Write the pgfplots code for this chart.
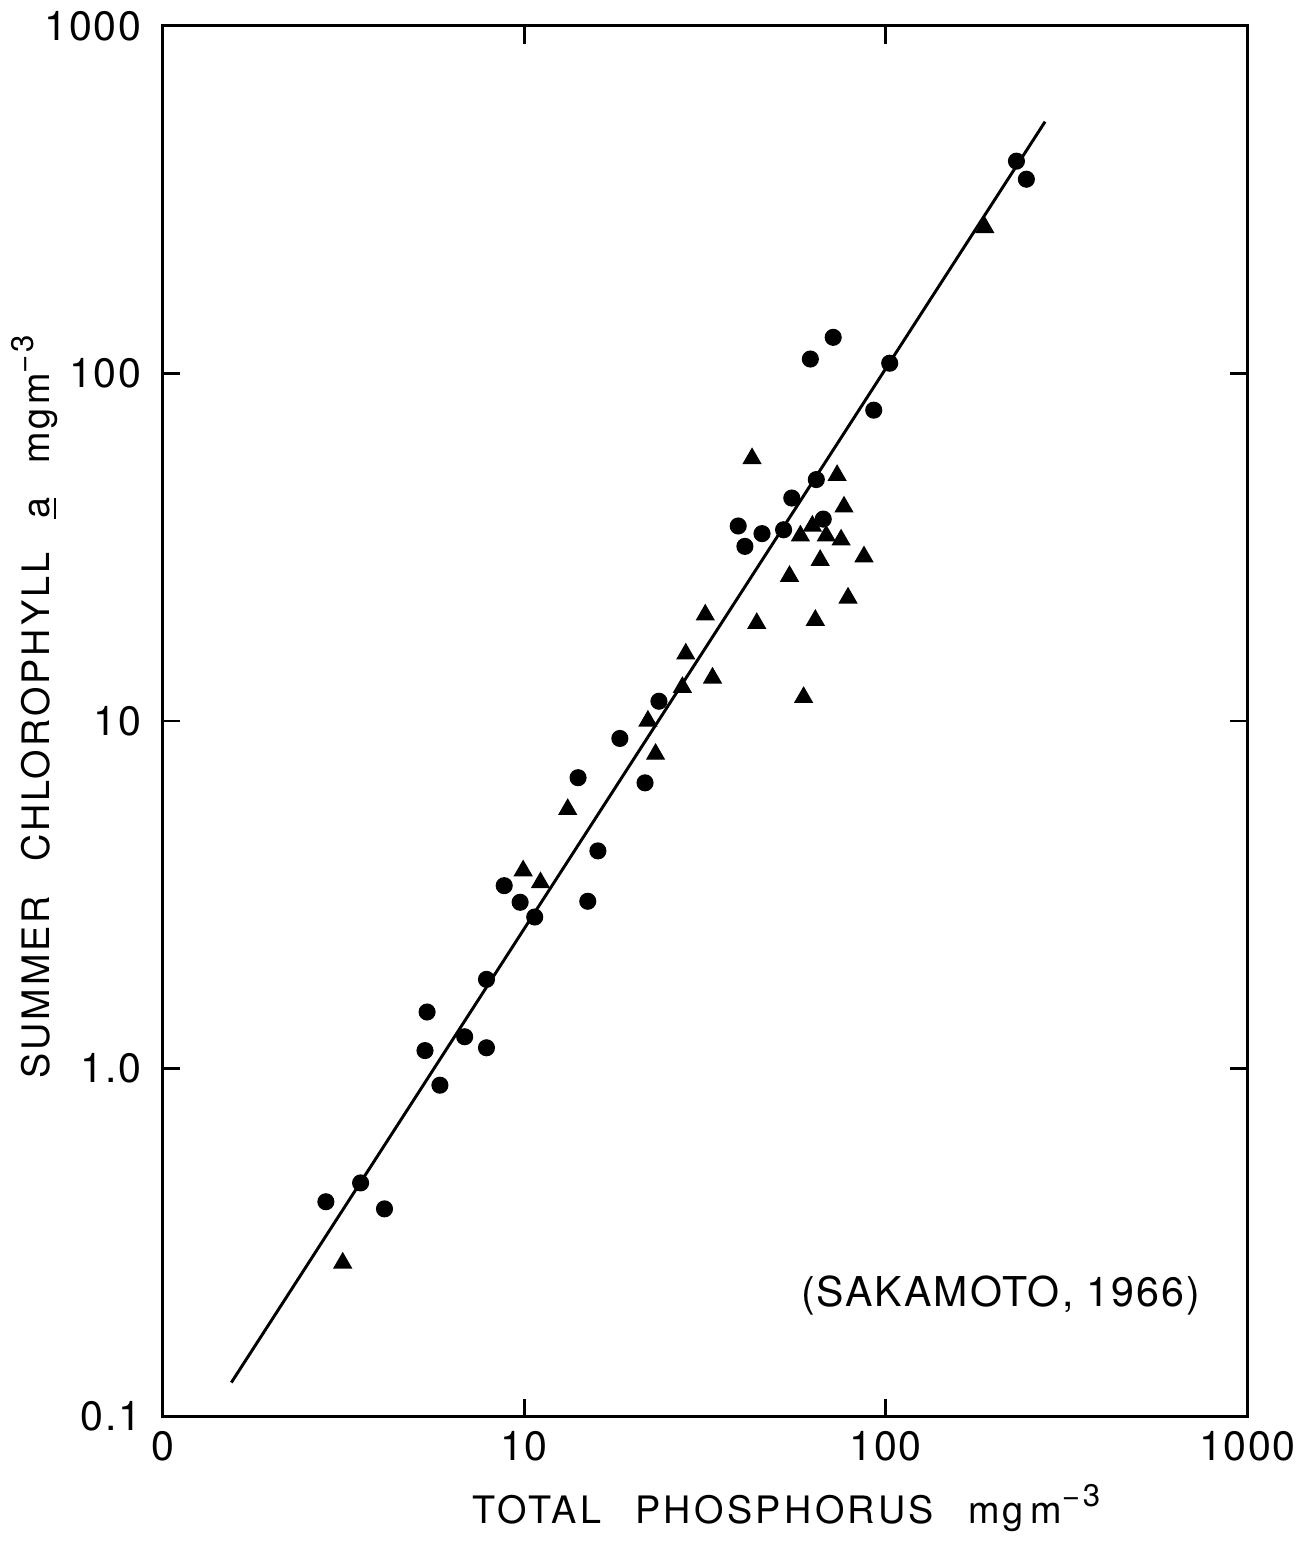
\documentclass[border=0pt]{standalone}
\usepackage{pgfplots}
\pgfplotsset{compat=1.18}
\usepackage{fontspec}
\setmainfont{TeX Gyre Heros}
\newcommand{\supm}{\raisebox{0.85ex}{\fontsize{9.5}{10}\selectfont −3}}
\begin{document}
\begin{tikzpicture}
\begin{axis}[
  scale only axis,
  width=330pt, height=423pt,
  xmode=log, ymode=log,
  xmin=1, xmax=1000, ymin=0.1, ymax=1000,
  axis line style={line width=0.9pt},
  tick style={line width=0.9pt, black},
  major tick length=5.4pt,
  tick align=inside,
  xtick pos=both, ytick pos=both,
  xminorticks=false, yminorticks=false,
  xtick={1,10,100,1000}, xticklabels={0,10,100,1000},
  ytick={0.1,1,10,100,1000}, yticklabels={0.1,1.0,10,100,1000},
  every tick label/.append style={font=\fontsize{12.5}{14}\selectfont\addfontfeature{LetterSpace=4}},
  yticklabel style={xshift=-3pt},
  xticklabel style={yshift=-1pt},
  xlabel={TOTAL\hspace{0.9em}PHOSPHORUS\hspace{0.9em}mg\,m\supm},
  ylabel={SUMMER\hspace{0.9em}CHLOROPHYLL\hspace{0.9em}\underline{a}\hspace{0.9em}mgm\supm},
  xlabel style={at={(axis description cs:0.575,-0.041)}, anchor=north, font=\fontsize{11.5}{13}\selectfont\addfontfeature{LetterSpace=9}},
  ylabel style={at={(axis description cs:-0.118,0.51)}, anchor=center, font=\fontsize{11.5}{13}\selectfont\addfontfeature{LetterSpace=8}},
  clip=false,
]
% regression line
\addplot[black, line width=0.9pt] coordinates {(1.55,0.125) (276,530)};
% circles
\addplot[only marks, mark=*, mark size=2.4pt, black] coordinates {
(2.83,0.414) (3.53,0.469) (4.11,0.395) (5.39,1.455) (5.32,1.127) (5.85,0.896)
(6.85,1.235) (7.87,1.806) (7.87,1.148) (8.81,3.36) (9.75,3.01) (10.7,2.73)
(15.0,3.03) (16.0,4.23) (14.1,6.87) (18.4,8.91) (21.6,6.64) (23.6,11.4)
(39.1,36.4) (40.8,31.8) (45.5,34.6) (52.2,35.5) (55.0,43.8) (61.9,110)
(64.3,49.5) (67.2,38.1) (71.6,127) (92.7,78.4) (102.6,107) (230,408) (245,362)
};
% triangles
\addplot[only marks, mark=triangle*, mark size=3pt, black] coordinates {
(3.15,0.276) (9.94,3.71) (11.1,3.43) (13.2,5.57) (22.0,10.0) (23.1,8.03)
(27.4,12.5) (28.0,15.6) (31.7,20.2) (33.2,13.3) (42.7,56.9) (44.0,19.1)
(54.2,26.1) (58.1,34.1) (59.3,11.7) (62.7,36.4) (63.9,19.5) (65.9,29.0)
(68.5,34.1) (73.4,50.9) (75.3,33.2) (76.7,41.3) (78.7,22.6) (87.1,29.7)
(188,263)
};
\node[font=\fontsize{12.5}{14}\selectfont\addfontfeature{LetterSpace=5}] at (axis cs:208,0.222) {(SAKAMOTO, 1966)};
\end{axis}
\end{tikzpicture}
\end{document}
